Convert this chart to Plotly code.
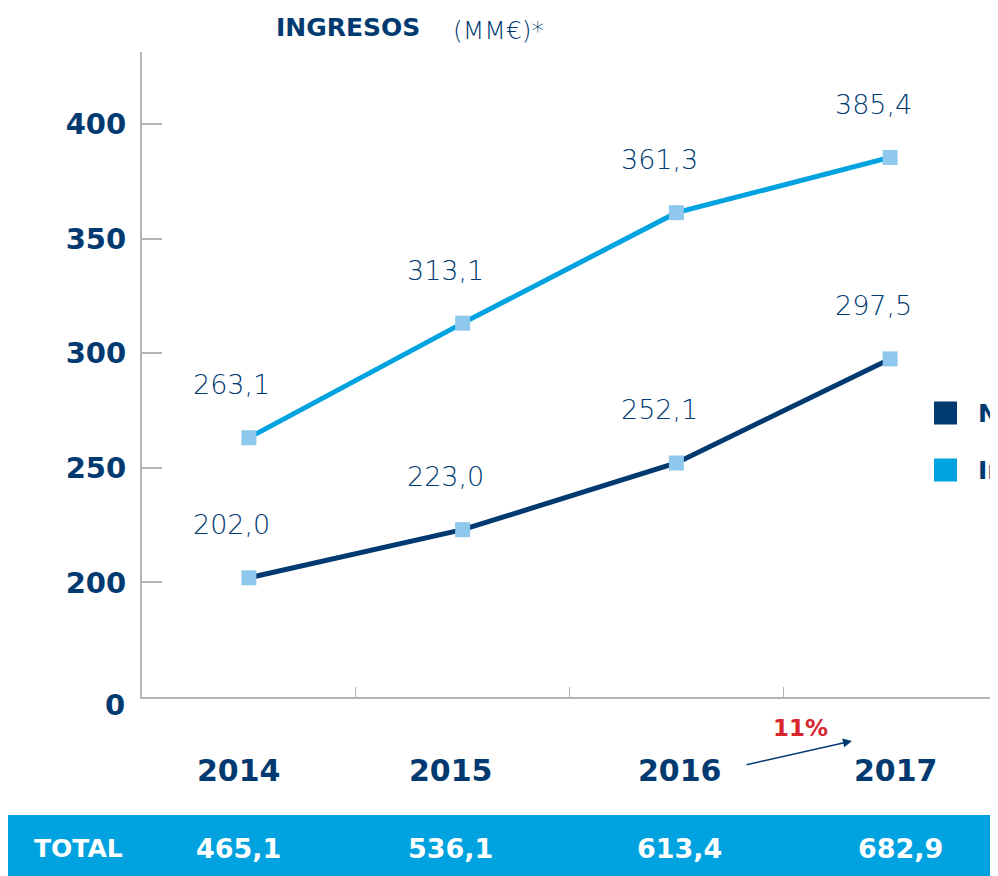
import plotly.graph_objects as go

# datos
anios = ['2014', '2015', '2016', '2017']
nacional = [202.0, 223.0, 252.1, 297.5]
internacional = [263.1, 313.1, 361.3, 385.4]
totales = ['465,1', '536,1', '613,4', '682,9']
ticks_y = [200, 250, 300, 350, 400]

# pequeños desplazamientos horizontales (px) de los textos bajo el eje
desp_anios = [-10, -12, 4, 6]
desp_totales = [-10, -12, 3, 10]

NAVY = '#003A70'
CELESTE = '#00A3E0'
MARCADOR = '#8EC8EC'
GRIS = '#B5B5B5'
FUENTE = 'DejaVu Sans'


def coma(v):
    return f'{v:.1f}'.replace('.', ',')


def px_x(p):  # pixel de pagina -> coordenada paper
    return (p - 142) / 855


def px_y(p):
    return (697 - p) / 645


def texto(x, y, t, size, color=NAVY, weight=None, xanchor='center', **kw):
    fig.add_annotation(x=x, y=y, text=t, showarrow=False, xanchor=xanchor,
                       yanchor='middle', font=dict(family=FUENTE, size=size, color=color,
                                                   weight=weight), **kw)


fig = go.Figure()

for serie, color in [(nacional, NAVY), (internacional, CELESTE)]:
    fig.add_trace(go.Scatter(
        x=anios, y=serie, mode='lines+markers',
        line=dict(color=color, width=5),
        marker=dict(symbol='square', size=15, color=MARCADOR),
        showlegend=False, hoverinfo='skip'))

# etiquetas de valores
for serie in [nacional, internacional]:
    for i, v in enumerate(serie):
        texto(i, v, coma(v), 27, weight=200, xshift=-17, yshift=53)

# "0" del eje cortado
texto(px_x(127), px_y(705), '<b>0</b>', 29, xanchor='right', xref='paper', yref='paper')

# años bajo el eje
for i, a in enumerate(anios):
    texto(i, px_y(770), f'<b>{a}</b>', 30, yref='paper', xshift=desp_anios[i])

# franja de totales
fig.add_shape(type='rect', xref='paper', yref='paper', x0=px_x(8), x1=px_x(1000),
              y0=px_y(815), y1=px_y(878), fillcolor=CELESTE, line_width=0, layer='below')
texto(px_x(78), px_y(848), '<b>TOTAL</b>', 25, color='white', xref='paper', yref='paper')
for i, t in enumerate(totales):
    texto(i, px_y(848), f'<b>{t}</b>', 27, color='white', yref='paper',
          xshift=desp_totales[i])

# crecimiento
fig.add_annotation(xref='paper', yref='paper', x=px_x(852), y=px_y(741),
                   ax=-107, ay=24, axref='pixel', ayref='pixel', text='',
                   showarrow=True, arrowhead=2, arrowsize=1.2, arrowwidth=1.5,
                   arrowcolor=NAVY)
texto(px_x(800), px_y(728), '<b>11%</b>', 23, color='#D7262E', xref='paper', yref='paper')

# titulo
texto(px_x(274), px_y(28), '<b>INGRESOS</b>', 25, xanchor='left', xref='paper', yref='paper')
texto(px_x(451), px_y(30), '(MM€)*', 25, weight=200, xanchor='left',
      xref='paper', yref='paper')

# leyenda recortada
for nombre, color, yc in [('Nacional', NAVY, 413), ('Internacional', CELESTE, 470)]:
    fig.add_shape(type='rect', xref='paper', yref='paper',
                  x0=px_x(934), x1=px_x(957),
                  y0=px_y(yc + 11.5), y1=px_y(yc - 11.5),
                  fillcolor=color, line_width=0)
    texto(px_x(976), px_y(yc), f'<b>{nombre}</b>', 25, xanchor='left',
          xref='paper', yref='paper')

fig.update_xaxes(type='category', tickson='boundaries', ticks='inside', ticklen=10,
                 tickcolor=GRIS, showticklabels=False, showline=True, linecolor=GRIS,
                 linewidth=2, showgrid=False, zeroline=False, range=[-0.5, 3.5])
fig.update_yaxes(range=[150, 431.4], tickvals=ticks_y, ticktext=[str(t) for t in ticks_y],
                 ticks='inside', ticklen=20, tickcolor=GRIS, tickwidth=2,
                 showline=True, linecolor=GRIS, linewidth=2, showgrid=False,
                 zeroline=False, ticklabelstandoff=8,
                 tickfont=dict(family=FUENTE, size=29, color=NAVY, weight='bold'))

# la pagina deja 8px de margen, por eso 990x868
fig.update_layout(width=990, height=868, plot_bgcolor='white', paper_bgcolor='white',
                  margin=dict(l=134, r=1, t=44, b=179, autoexpand=False),
                  showlegend=False)

fig.write_html('out.html')
